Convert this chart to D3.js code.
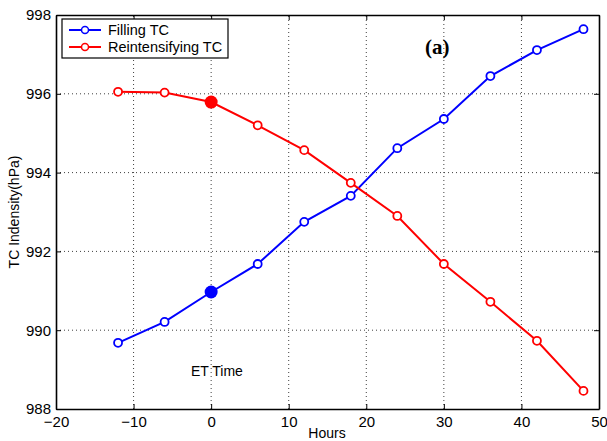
<!DOCTYPE html>
<html>
<head>
<meta charset="utf-8">
<script src="https://cdn.jsdelivr.net/npm/d3@7"></script>
<style>
  html, body { margin: 0; padding: 0; background: #fff; }
  svg { display: block; font-family: "Liberation Sans", Arial, sans-serif; }
</style>
</head>
<body>
<svg id="chart" width="607" height="441"></svg>
<script>
// Forecast hours relative to extratropical transition
const hours = [-12, -6, 0, 6, 12, 18, 24, 30, 36, 42, 48];
// Central pressure (hPa)
const fillingTC = [989.68, 990.21, 990.97, 991.68, 992.75, 993.41, 994.62, 995.36, 996.45, 997.11, 997.64];
const reintensifyingTC = [996.05, 996.03, 995.79, 995.20, 994.57, 993.74, 992.90, 991.68, 990.72, 989.73, 988.46];
const xTicks = [-20, -10, 0, 10, 20, 30, 40, 50];
const yTicks = [988, 990, 992, 994, 996, 998];
const seriesNames = ["Filling TC", "Reintensifying TC"];
const seriesColors = ["#0000ff", "#ff0000"];
const etHour = 0;

const svg = d3.select("#chart");
const margin = { left: 56, right: 8, top: 15, bottom: 32 };
const W = 607, H = 441;
const x = d3.scaleLinear().domain([-20, 50]).range([margin.left, W - margin.right]);
const y = d3.scaleLinear().domain([988, 998]).range([H - margin.bottom, margin.top]);

const fmt = d => (d < 0 ? "\u2212" + Math.abs(d) : String(d));

// Dotted grid
const grid = svg.append("g").attr("stroke", "#000").attr("stroke-width", 1)
  .attr("stroke-dasharray", "1,3").attr("opacity", 0.75);
xTicks.slice(1, -1).forEach(t => grid.append("line")
  .attr("x1", x(t)).attr("x2", x(t)).attr("y1", y(988)).attr("y2", y(998)));
yTicks.slice(1, -1).forEach(t => grid.append("line")
  .attr("x1", x(-20)).attr("x2", x(50)).attr("y1", y(t)).attr("y2", y(t)));

// Axes with inward ticks on all four sides
const tickLen = 5;
const axB = svg.append("g").attr("transform", `translate(0,${y(988)})`)
  .call(d3.axisBottom(x).tickValues(xTicks).tickFormat(fmt).tickSizeInner(-tickLen).tickSizeOuter(0).tickPadding(7));
const axT = svg.append("g").attr("transform", `translate(0,${y(998)})`)
  .call(d3.axisTop(x).tickValues(xTicks).tickFormat("").tickSizeInner(-tickLen).tickSizeOuter(0));
const axL = svg.append("g").attr("transform", `translate(${x(-20)},0)`)
  .call(d3.axisLeft(y).tickValues(yTicks).tickFormat(d3.format("d")).tickSizeInner(-tickLen).tickSizeOuter(0).tickPadding(5));
const axR = svg.append("g").attr("transform", `translate(${x(50)},0)`)
  .call(d3.axisRight(y).tickValues(yTicks).tickFormat("").tickSizeInner(-tickLen).tickSizeOuter(0));
[axB, axT, axL, axR].forEach(a => {
  a.select(".domain").attr("stroke", "#000").attr("stroke-width", 1.6);
  a.selectAll(".tick line").attr("stroke", "#000").attr("stroke-width", 1);
  a.selectAll("text").attr("font-size", 15).attr("fill", "#000")
    .attr("font-family", "'Liberation Sans', Arial, sans-serif");
});

// Series lines and markers
const series = [fillingTC, reintensifyingTC];
const line = d3.line().x(d => x(d[0])).y(d => y(d[1]));
series.forEach((vals, i) => {
  const pts = hours.map((h, j) => [h, vals[j]]);
  const g = svg.append("g");
  g.append("path").datum(pts).attr("d", line).attr("fill", "none")
    .attr("stroke", seriesColors[i]).attr("stroke-width", 2);
  g.selectAll("circle.m").data(pts.filter(p => p[0] !== etHour)).join("circle")
    .attr("class", "m").attr("cx", d => x(d[0])).attr("cy", d => y(d[1])).attr("r", 4)
    .attr("fill", "#fff").attr("stroke", seriesColors[i]).attr("stroke-width", 1.8);
  g.selectAll("circle.et").data(pts.filter(p => p[0] === etHour)).join("circle")
    .attr("class", "et").attr("cx", d => x(d[0])).attr("cy", d => y(d[1])).attr("r", 6.5)
    .attr("fill", seriesColors[i]);
});

// Legend
const lg = svg.append("g");
lg.append("rect").attr("x", 62).attr("y", 19).attr("width", 166).attr("height", 39)
  .attr("fill", "#fff").attr("stroke", "#000").attr("stroke-width", 1.2);
seriesNames.forEach((name, i) => {
  const cy = 30 + i * 17;
  lg.append("line").attr("x1", 69).attr("x2", 101).attr("y1", cy).attr("y2", cy)
    .attr("stroke", seriesColors[i]).attr("stroke-width", 2);
  lg.append("circle").attr("cx", 85).attr("cy", cy).attr("r", 3.5).attr("fill", "#fff")
    .attr("stroke", seriesColors[i]).attr("stroke-width", 1.5);
  lg.append("text").attr("x", 108).attr("y", cy + 5).attr("font-size", 14.5).text(name);
});

// Annotations
svg.append("text").attr("x", 425).attr("y", 54).attr("font-family", "'Liberation Serif', 'Times New Roman', serif")
  .attr("font-weight", "bold").attr("font-size", 21).text("(a)");
svg.append("text").attr("x", x(-2.6)).attr("y", 376).attr("font-size", 14).text("ET Time");

// Axis titles
svg.append("text").attr("x", 327).attr("y", 438).attr("text-anchor", "middle").attr("font-size", 14).text("Hours");
svg.append("text").attr("transform", `translate(19,${(y(988) + y(998)) / 2}) rotate(-90)`)
  .attr("text-anchor", "middle").attr("font-size", 14).text("TC Indensity(hPa)");
</script>
</body>
</html>
